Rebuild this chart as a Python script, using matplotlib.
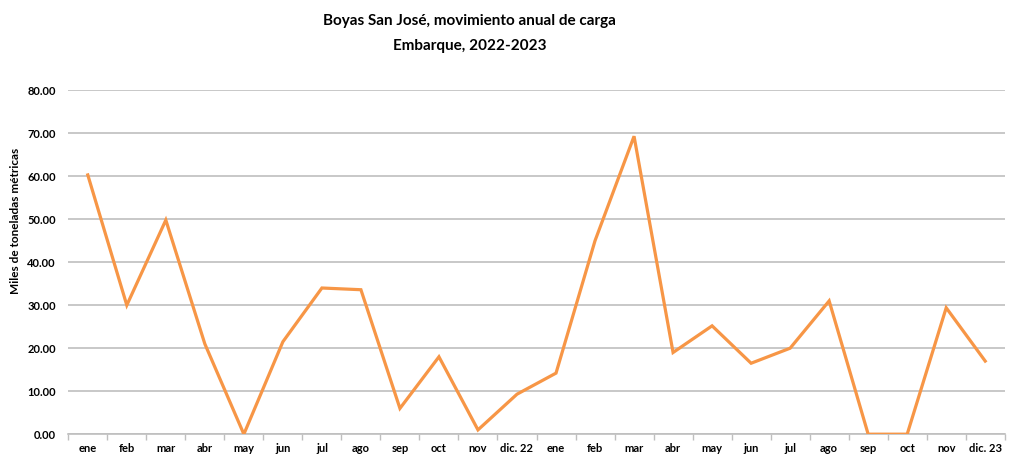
import numpy as np
import matplotlib.pyplot as plt

months = ["ene", "feb", "mar", "abr", "may", "jun", "jul", "ago", "sep", "oct", "nov", "dic. 22",
          "ene", "feb", "mar", "abr", "may", "jun", "jul", "ago", "sep", "oct", "nov", "dic. 23"]
carga = [60.3, 30.0, 49.8, 21.0, 0.0, 21.5, 34.0, 33.6, 6.0, 18.0, 1.0, 9.3,
         14.2, 45.0, 69.3, 19.0, 25.2, 16.5, 20.0, 31.0, 0.0, 0.0, 29.4, 17.0]

plt.rcParams['font.family'] = ['Lato', 'DejaVu Sans']

fig = plt.figure(figsize=(10.19, 4.58), dpi=100)
ax = fig.add_axes([0.067, 0.052, 0.919, 0.751])

x = np.arange(len(months))
ax.plot(x, carga, color='#F79646', lw=2.3, solid_joinstyle='miter', zorder=3)

ax.set_xlim(-0.5, len(months) - 0.5)
ax.set_ylim(0, 80)
ax.set_yticks(np.arange(0, 81, 10))
ax.set_yticklabels([f"{v:.2f}" for v in np.arange(0, 81, 10)], fontsize=8, fontweight='bold')
ax.yaxis.grid(True, color='#BFBFBF', lw=1.2)
ax.set_axisbelow(True)
ax.tick_params(axis='y', length=0, pad=9)

ax.set_xticks(x)
ax.set_xticklabels(months, fontsize=8, fontweight='bold')
ax.set_xticks(np.arange(-0.5, len(months), 1), minor=True)
ax.tick_params(axis='x', which='major', length=0, pad=6)
ax.tick_params(axis='x', which='minor', length=4, color='#BFBFBF', width=1)

for s in ['top', 'right', 'left']:
    ax.spines[s].set_visible(False)
ax.spines['bottom'].set_color('#BFBFBF')
ax.spines['bottom'].set_linewidth(1.2)

ax.set_ylabel("Miles de toneladas métricas", fontsize=8.5, fontweight='bold')
ax.yaxis.set_label_coords(-0.05, 0.62)

fig.text(0.461, 0.955, "Boyas San José, movimiento anual de carga", ha='center', va='center',
         fontsize=11, fontweight='bold')
fig.text(0.461, 0.9, "Embarque, 2022-2023", ha='center', va='center',
         fontsize=11, fontweight='bold')

fig.savefig("out.png", dpi=100)
